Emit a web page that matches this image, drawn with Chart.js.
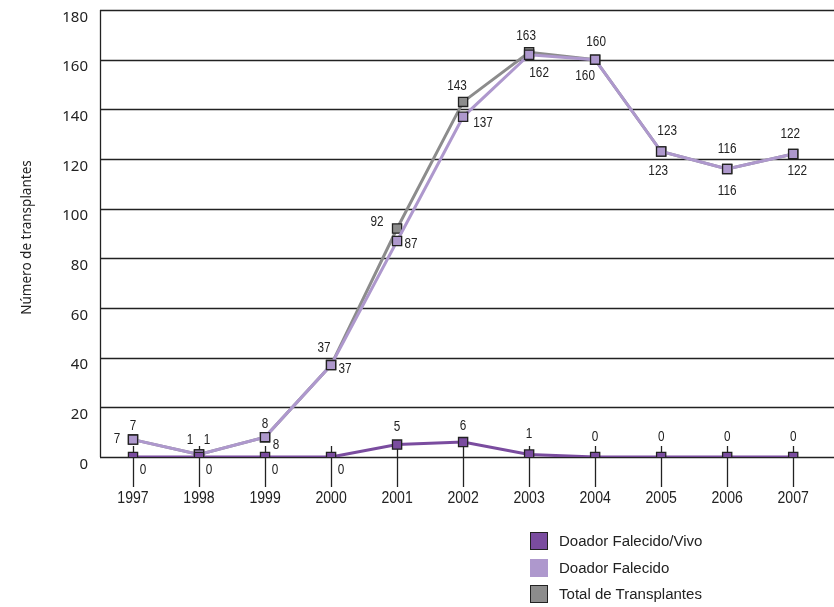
<!DOCTYPE html>
<html>
<head>
<meta charset="utf-8">
<script src="https://cdn.jsdelivr.net/npm/chart.js@4/dist/chart.umd.min.js"></script>
<style>
  html, body { margin: 0; padding: 0; background: #fff; }
  #wrap { position: relative; width: 834px; height: 607px; }
  #legend { position: absolute; left: 530px; top: 528px; font-family: 'Liberation Sans', Arial, sans-serif; font-size: 15.5px; color: #222; }
  .item { height: 26.5px; display: flex; align-items: center; }
  .item span.txt { display: inline-block; transform: scaleX(0.97); transform-origin: left center; }
  .box { width: 18px; height: 18px; margin-right: 11px; box-sizing: border-box; }
</style>
</head>
<body>
<div id="wrap">
  <canvas id="chart" width="834" height="607"></canvas>
  <div id="legend"></div>
</div>
<script>
document.addEventListener('DOMContentLoaded', function () {
    // Data
    const years = ['1997', '1998', '1999', '2000', '2001', '2002', '2003', '2004', '2005', '2006', '2007'];
    const falecidoVivo = [0, 0, 0, 0, 5, 6, 1, 0, 0, 0, 0];
    const falecido = [7, 1, 8, 37, 87, 137, 162, 160, 123, 116, 122];
    const total = [7, 1, 8, 37, 92, 143, 163, 160, 123, 116, 122];
    const yTicks = [0, 20, 40, 60, 80, 100, 120, 140, 160, 180];

    // Label offsets (dx, dy) from each point
    const offsVivo = [[10, 13], [10, 13], [10, 13], [10, 13], [0, -17], [0, -16], [0, -20], [0, -20], [0, -20], [0, -20], [0, -20]];
    const offsFalecido = [[0, -13], [8, -14], [11, 8], [14, 4], [14, 3], [20, 6], [10, 18], [-10, 16], [-3, 20], [0, 22], [4, 17]];
    const offsTotal = [[-16, 0], [-9, -14], [0, -13], [-7, -17], [-20, -6], [-6, -16], [-3, -16], [1, -18], [6, -20], [0, -20], [-3, -20]];

    const cVivo = '#7a4c9f';
    const cFalecido = '#ae98cd';
    const cTotal = '#8c8c8c';
    const narrow = "'Liberation Sans', Arial, sans-serif";

    // draw text squeezed horizontally (condensed look)
    function squeezed(ctx, text, x, y, sx) {
        ctx.save();
        ctx.translate(x, y);
        ctx.scale(sx, 1);
        ctx.fillText(text, 0, 0);
        ctx.restore();
    }

    // Grid, axes, tick lines and axis texts
    const axisPlugin = {
        id: 'axisDraw',
        beforeDatasetsDraw(chart) {
            const { ctx, chartArea, scales } = chart;
            ctx.save();
            ctx.strokeStyle = '#222';
            ctx.lineWidth = 1.3;
            yTicks.forEach(v => {
                const y = Math.round(scales.y.getPixelForValue(v)) + 0.5;
                ctx.beginPath();
                ctx.moveTo(chartArea.left, y);
                ctx.lineTo(chart.width, y);
                ctx.stroke();
            });
            ctx.beginPath();
            ctx.moveTo(chartArea.left + 0.5, scales.y.getPixelForValue(180));
            ctx.lineTo(chartArea.left + 0.5, scales.y.getPixelForValue(0));
            ctx.stroke();
            const y0 = scales.y.getPixelForValue(0);
            years.forEach((yr, i) => {
                const x = Math.round(scales.x.getPixelForValue(i)) + 0.5;
                ctx.beginPath();
                ctx.moveTo(x, y0 - 11);
                ctx.lineTo(x, y0 + 30);
                ctx.stroke();
            });

            // y tick labels
            ctx.fillStyle = '#222';
            ctx.font = "15px 'Noto Sans', sans-serif";
            ctx.textAlign = 'right';
            ctx.textBaseline = 'middle';
            yTicks.forEach(v => {
                ctx.fillText(String(v), chartArea.left - 12, scales.y.getPixelForValue(v) + 7.5);
            });

            // x tick labels
            ctx.font = '16px ' + narrow;
            ctx.textAlign = 'center';
            years.forEach((yr, i) => {
                squeezed(ctx, yr, scales.x.getPixelForValue(i), y0 + 42, 0.88);
            });

            // y axis title
            ctx.save();
            ctx.translate(27, (chartArea.top + chartArea.bottom) / 2 + 4);
            ctx.rotate(-Math.PI / 2);
            ctx.font = "13.5px 'Noto Sans', sans-serif";
            ctx.fillText('Número de transplantes', 0, 0);
            ctx.restore();
            ctx.restore();
        }
    };

    // Value labels
    const labelPlugin = {
        id: 'valueLabels',
        afterDatasetsDraw(chart) {
            const { ctx, scales } = chart;
            const sets = [[falecidoVivo, offsVivo], [falecido, offsFalecido], [total, offsTotal]];
            ctx.save();
            ctx.font = '14px ' + narrow;
            ctx.textAlign = 'center';
            ctx.textBaseline = 'middle';
            sets.forEach(([vals, offs], s) => {
                vals.forEach((v, i) => {
                    const x = scales.x.getPixelForValue(i) + offs[i][0];
                    const y = scales.y.getPixelForValue(v) + offs[i][1];
                    if (s === 2 && i === 9) {
                        const w = ctx.measureText(String(v)).width * 0.84;
                        ctx.fillStyle = '#fff';
                        ctx.fillRect(x - w / 2 - 6, y - 8, w + 12, 16);
                    }
                    ctx.fillStyle = '#222';
                    squeezed(ctx, String(v), x, y, 0.84);
                });
            });
            ctx.restore();
        }
    };

    const pointStyle = (color) => ({
        borderColor: color,
        backgroundColor: color,
        pointBackgroundColor: color,
        pointBorderColor: '#222',
        pointBorderWidth: 1.3,
        pointStyle: 'rect',
        pointRadius: 6.5,
        pointHoverRadius: 6.5,
        borderWidth: 3,
        tension: 0,
        fill: false,
    });

    const ctx = document.getElementById('chart').getContext('2d');
    new Chart(ctx, {
        type: 'line',
        data: {
            labels: years,
            datasets: [
                { label: 'Doador Falecido/Vivo', data: falecidoVivo, ...pointStyle(cVivo) },
                { label: 'Doador Falecido', data: falecido, ...pointStyle(cFalecido) },
                { label: 'Total de Transplantes', data: total, ...pointStyle(cTotal) },
            ],
        },
        options: {
            responsive: false,
            animation: false,
            layout: { padding: { top: 10, right: 2, left: 100, bottom: 150 } },
            plugins: { legend: { display: false }, tooltip: { enabled: false } },
            scales: {
                x: { display: false, offset: true },
                y: { display: false, min: 0, max: 180 },
            },
        },
        plugins: [axisPlugin, labelPlugin],
    });

    // Legend
    const legendItems = [
        ['Doador Falecido/Vivo', cVivo, '1px solid #222'],
        ['Doador Falecido', cFalecido, 'none'],
        ['Total de Transplantes', cTotal, '1px solid #222'],
    ];
    document.getElementById('legend').innerHTML = legendItems.map(([name, color, border]) =>
        `<div class="item"><span class="box" style="background:${color};border:${border}"></span><span class="txt">${name}</span></div>`
    ).join('');
});
</script>
</body>
</html>
